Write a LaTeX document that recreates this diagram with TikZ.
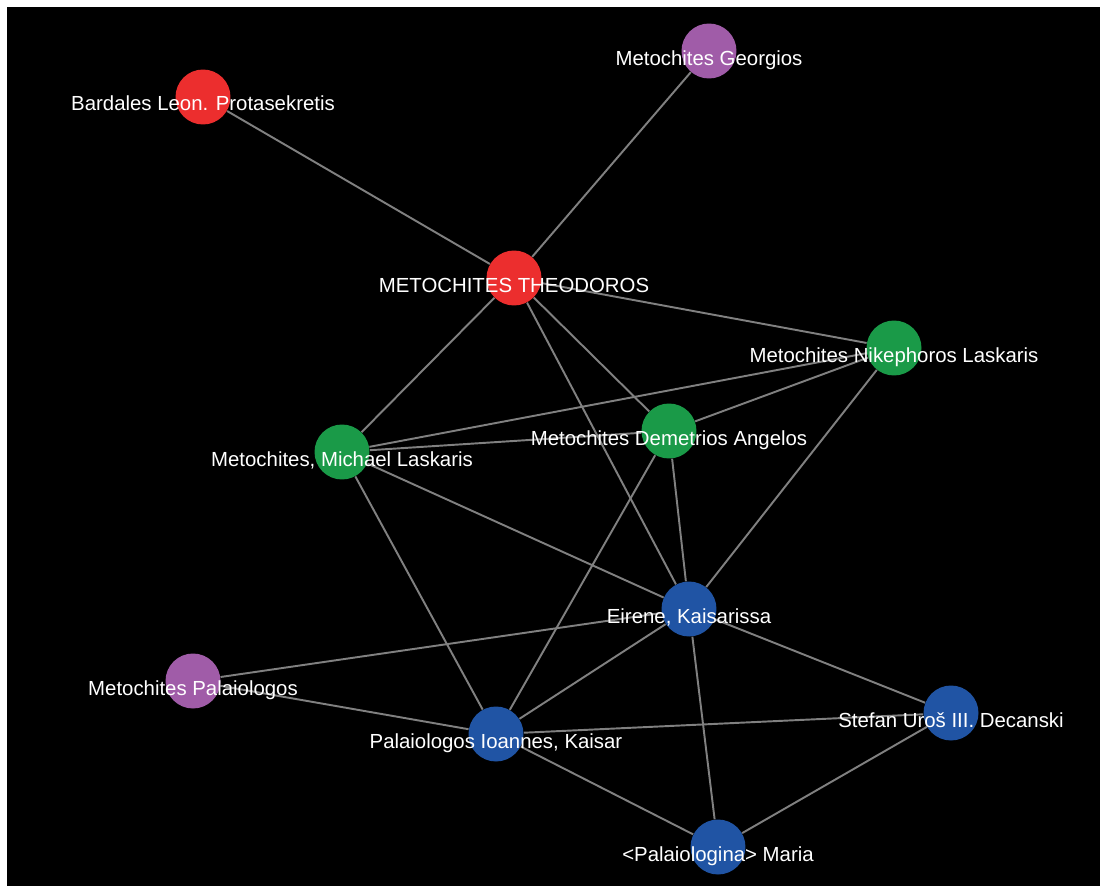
\documentclass[tikz,border=0pt]{standalone}
\usepackage{fontspec}
\setmainfont{Liberation Sans}
\usepackage{xcolor}
\definecolor{nodered}{RGB}{236,46,46}
\definecolor{nodepurple}{RGB}{160,92,168}
\definecolor{nodegreen}{RGB}{26,154,72}
\definecolor{nodeblue}{RGB}{32,84,164}
\definecolor{edgegray}{RGB}{128,128,128}
\pgfdeclarelayer{bg}
\pgfsetlayers{bg,main}

\begin{document}
\begin{tikzpicture}[
  x = 0.02cm, y = -0.02cm,
  person/.style = {circle, inner sep = 0pt, minimum size = 1.1cm, draw = none},
  red/.style = {person, fill = nodered},
  purple/.style = {person, fill = nodepurple},
  green/.style = {person, fill = nodegreen},
  blue/.style = {person, fill = nodeblue},
  lbl/.style = {text = white, inner sep = 0pt, anchor = base, yshift = -0.28cm,
    font = \fontsize{11.6}{13}\selectfont},
  link/.style = {draw = edgegray, line width = 1.1pt}
]
\useasboundingbox (0,0) rectangle (1100,886);

% persons
\node[red](bardales) at (203,97) {};
\node[purple](georgios) at (709,51) {};
\node[red](theodoros) at (514,278) {};
\node[green](nikephoros) at (894,348) {};
\node[green](demetrios) at (669,431) {};
\node[green](michael) at (342,452) {};
\node[blue](eirene) at (689,609) {};
\node[purple](palaiologos) at (193,681) {};
\node[blue](ioannes) at (496,734) {};
\node[blue](stefan) at (951,713) {};
\node[blue](maria) at (718,847) {};

% background and links
\begin{pgfonlayer}{bg}
  \fill[white] (0,0) rectangle (1100,886);
  \fill[black] (7,7) rectangle (1100,886);
  \draw[link] (bardales) -- (theodoros);
  \draw[link] (georgios) -- (theodoros);
  \draw[link] (theodoros) -- (nikephoros);
  \draw[link] (theodoros) -- (michael);
  \draw[link] (theodoros) -- (demetrios);
  \draw[link] (theodoros) -- (eirene);
  \draw[link] (michael) -- (nikephoros);
  \draw[link] (michael) -- (demetrios);
  \draw[link] (michael) -- (eirene);
  \draw[link] (michael) -- (ioannes);
  \draw[link] (demetrios) -- (nikephoros);
  \draw[link] (demetrios) -- (eirene);
  \draw[link] (demetrios) -- (ioannes);
  \draw[link] (nikephoros) -- (eirene);
  \draw[link] (eirene) -- (palaiologos);
  \draw[link] (eirene) -- (ioannes);
  \draw[link] (eirene) -- (stefan);
  \draw[link] (eirene) -- (maria);
  \draw[link] (palaiologos) -- (ioannes);
  \draw[link] (ioannes) -- (stefan);
  \draw[link] (ioannes) -- (maria);
  \draw[link] (stefan) -- (maria);
\end{pgfonlayer}

% labels
\node[lbl](bardales-l) at (bardales.center) {Bardales Leon. Protasekretis};
\node[lbl](georgios-l) at (georgios.center) {Metochites Georgios};
\node[lbl](theodoros-l) at (theodoros.center) {METOCHITES THEODOROS};
\node[lbl](nikephoros-l) at (nikephoros.center) {Metochites Nikephoros Laskaris};
\node[lbl](demetrios-l) at (demetrios.center) {Metochites Demetrios Angelos};
\node[lbl](michael-l) at (michael.center) {Metochites, Michael Laskaris};
\node[lbl](eirene-l) at (eirene.center) {Eirene, Kaisarissa};
\node[lbl](palaiologos-l) at (palaiologos.center) {Metochites Palaiologos};
\node[lbl](ioannes-l) at (ioannes.center) {Palaiologos Ioannes, Kaisar};
\node[lbl](stefan-l) at (stefan.center) {Stefan Uroš III. Decanski};
\node[lbl](maria-l) at (maria.center) {<Palaiologina> Maria};
\end{tikzpicture}
\end{document}
